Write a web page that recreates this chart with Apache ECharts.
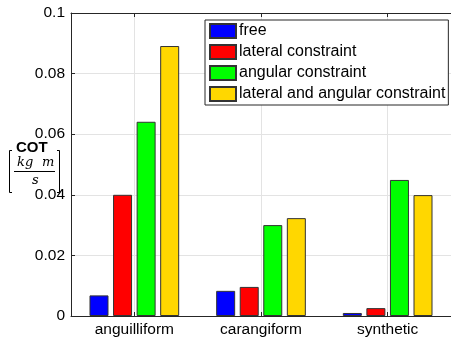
<!DOCTYPE html>
<html>
<head>
<meta charset="utf-8">
<script src="https://cdn.jsdelivr.net/npm/echarts@6/dist/echarts.min.js"></script>
<style>
  html, body { margin: 0; padding: 0; background: #fff; }
  #chart { width: 451px; height: 339px; }
</style>
</head>
<body>
<div id="chart"></div>
<script>
// data
var categories = ['anguilliform', 'carangiform', 'synthetic']
var seriesNames = ['free', 'lateral constraint', 'angular constraint', 'lateral and angular constraint']
var colors = ['#0000ff', '#ff0000', '#00ff00', '#ffd700']
var freeVals = [0.0068, 0.0083, 0.0010]
var lateralVals = [0.0400, 0.0096, 0.0026]
var angularVals = [0.0641, 0.0300, 0.0449]
var bothVals = [0.0891, 0.0323, 0.0399]
var yTicks = [0, 0.02, 0.04, 0.06, 0.08, 0.1]

var allVals = [freeVals, lateralVals, angularVals, bothVals]
var font = 'Liberation Sans, Arial, Helvetica, sans-serif'
var serif = 'DejaVu Serif, Liberation Serif, serif'
var dark = '#262626'

var myChart = echarts.init(document.getElementById('chart'), null, {renderer: 'canvas'})

var series = seriesNames.map(function (name, i) {
  return {
    name: name,
    type: 'bar',
    data: allVals[i],
    barWidth: 19,
    barGap: '24%',
    itemStyle: {color: colors[i], borderColor: '#333', borderWidth: 1}
  }
})

var option = {
  animation: false,
  backgroundColor: '#fff',
  textStyle: {fontFamily: font},
  grid: {left: 71, right: 0, top: 13, bottom: 23, containLabel: false},
  legend: {
    orient: 'vertical',
    left: 205, top: 20,
    padding: [3, 3, 3, 4],
    itemGap: 5,
    itemWidth: 26, itemHeight: 14,
    icon: 'rect',
    backgroundColor: '#fff',
    borderColor: dark, borderWidth: 1,
    textStyle: {fontSize: 16, lineHeight: 15, color: '#000', fontFamily: font, padding: [0, 0, 0, -2]},
    data: seriesNames
  },
  xAxis: [{
    type: 'category',
    data: categories,
    axisLine: {lineStyle: {color: dark, width: 1}},
    axisTick: {show: true, inside: true, alignWithLabel: true, length: 4, lineStyle: {color: dark}},
    axisLabel: {fontSize: 15.5, color: '#000', margin: 6, fontFamily: font},
    splitLine: {show: true, alignWithLabel: true, lineStyle: {color: '#e3e3e3', width: 1}}
  }, {
    type: 'category',
    position: 'top',
    data: categories,
    axisLine: {lineStyle: {color: dark, width: 1}},
    axisTick: {show: true, inside: true, alignWithLabel: true, length: 4, lineStyle: {color: dark}},
    axisLabel: {show: false},
    splitLine: {show: false}
  }],
  yAxis: [{
    type: 'value',
    min: 0, max: 0.1, interval: 0.02,
    axisLine: {show: true, lineStyle: {color: dark, width: 1}},
    axisTick: {show: true, inside: true, length: 4, lineStyle: {color: dark}},
    axisLabel: {
      fontSize: 15.5, color: '#000', margin: 6, fontFamily: font,
      formatter: function (v) {
        var hit = yTicks.filter(function (t) { return Math.abs(t - v) < 1e-9 })
        return hit.length ? String(+hit[0].toFixed(2)) : ''
      }
    },
    splitLine: {show: true, lineStyle: {color: '#e3e3e3', width: 1}}
  }],
  // y axis title: COT [kg m / s]
  graphic: [
    {type: 'text', left: 16, top: 140, style: {text: 'COT', font: 'bold 15px ' + font, fill: '#000'}},
    {type: 'text', left: 17, top: 156, style: {text: 'kg', font: 'italic 13px ' + serif, fill: '#000'}},
    {type: 'text', left: 42, top: 156, style: {text: 'm', font: 'italic 13px ' + serif, fill: '#000'}},
    {type: 'line', shape: {x1: 14, y1: 171.5, x2: 55, y2: 171.5}, style: {stroke: '#000', lineWidth: 1}},
    {type: 'text', left: 32, top: 174, style: {text: 's', font: 'italic 13px ' + serif, fill: '#000'}},
    {type: 'polyline', shape: {points: [[12, 150.5], [9.5, 150.5], [9.5, 192.5], [12, 192.5]]}, style: {stroke: '#000', lineWidth: 1, fill: null}},
    {type: 'polyline', shape: {points: [[57, 150.5], [59.5, 150.5], [59.5, 192.5], [57, 192.5]]}, style: {stroke: '#000', lineWidth: 1, fill: null}}
  ],
  series: series
}

myChart.setOption(option)
window.addEventListener('resize', () => { myChart.resize(); });
</script>
</body>
</html>
